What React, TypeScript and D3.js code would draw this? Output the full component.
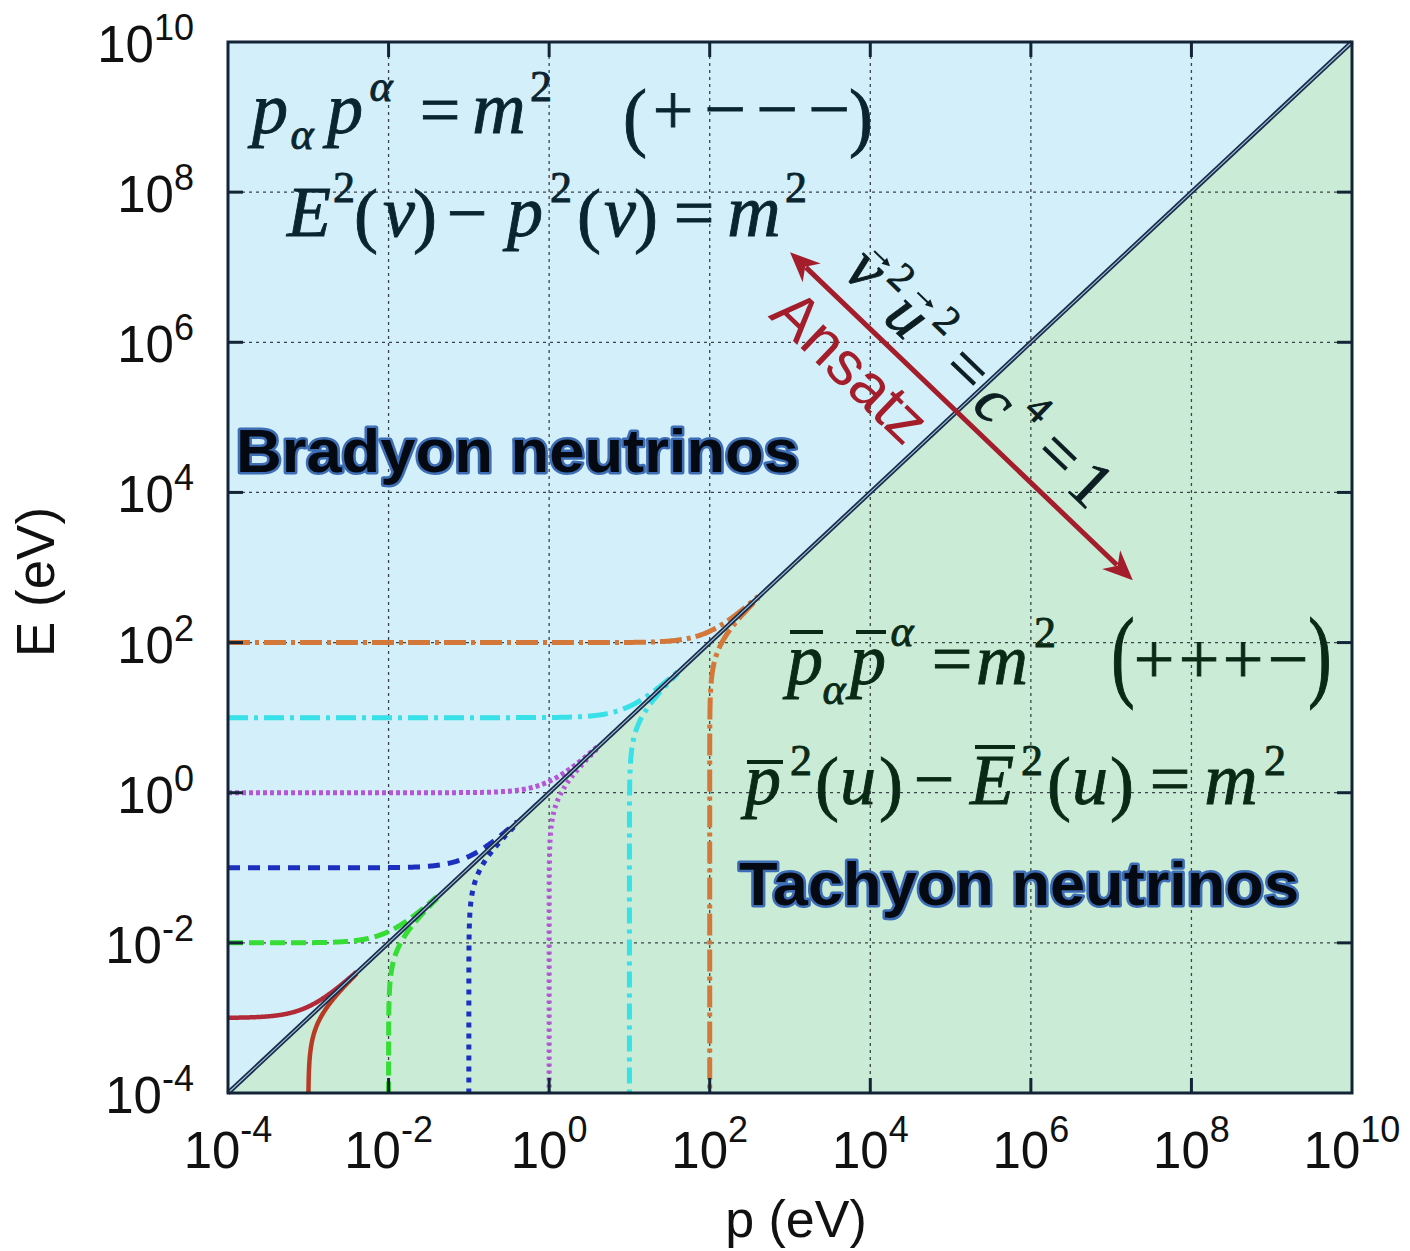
import React from "react";
import * as d3 from "d3";

// Neutrino rest masses (eV) for which E² − p² = ±m² is drawn
const masses = [1e-3, 1e-2, 1e-1, 1, 10, 100];
// Decade exponents carrying a labelled tick on both axes
const tickExponents = [-4, -2, 0, 2, 4, 6, 8, 10];
// Axis domain (eV)
const domainEV = [1e-4, 1e10];
// Double-headed "Ansatz" arrow end points in (p, E) eV
const arrowStart = [1e3, Math.pow(10, 7.2)];
const arrowEnd = [Math.pow(10, 7.27), Math.pow(10, 2.83)];

const W = 1410;
const H = 1251;
const PLOT = { left: 228, right: 1352, top: 42, bottom: 1093 };

const curveStyles = [
  { bra: "#b22a38", tac: "#b83a22", braDash: "", tacDash: "" },
  { bra: "#35dd35", tac: "#35dd35", braDash: "15 6", tacDash: "14 6" },
  { bra: "#1c30c0", tac: "#1c30c0", braDash: "12 8", tacDash: "5 6" },
  { bra: "#b456d6", tac: "#b456d6", braDash: "4 3", tacDash: "3 4" },
  { bra: "#38e0e8", tac: "#38e0e8", braDash: "20 6 4 6", tacDash: "16 6 4 6" },
  { bra: "#d4783a", tac: "#d4783a", braDash: "22 5 4 5", tacDash: "22 5 4 5" },
];

type Piece = { t: string; cx: number; by: number; s: number; it?: boolean; sy?: number };
type Bar = { x1: number; x2: number; y: number };

const braLine1: Piece[] = [
  { t: "p", cx: 270, by: 133, s: 72, it: true },
  { t: "α", cx: 302, by: 149, s: 44, it: true },
  { t: "p", cx: 345, by: 133, s: 72, it: true },
  { t: "α", cx: 381, by: 101, s: 44, it: true },
  { t: "=", cx: 440, by: 134, s: 72 },
  { t: "m", cx: 499, by: 133, s: 74, it: true },
  { t: "2", cx: 541, by: 101, s: 44 },
  { t: "(", cx: 635, by: 142, s: 72, sy: 1.05 },
  { t: "+", cx: 673, by: 134, s: 72 },
  { t: "−", cx: 725, by: 134, s: 74 },
  { t: "−", cx: 777, by: 134, s: 74 },
  { t: "−", cx: 829, by: 134, s: 74 },
  { t: ")", cx: 861, by: 142, s: 72, sy: 1.05 },
];
const braLine2: Piece[] = [
  { t: "E", cx: 309, by: 236, s: 72, it: true },
  { t: "2", cx: 344, by: 202, s: 44 },
  { t: "(", cx: 366, by: 239, s: 72 },
  { t: "v", cx: 399, by: 236, s: 72, it: true },
  { t: ")", cx: 425, by: 239, s: 72 },
  { t: "−", cx: 467, by: 237, s: 72 },
  { t: "p", cx: 525, by: 236, s: 72, it: true },
  { t: "2", cx: 561, by: 202, s: 44 },
  { t: "(", cx: 589, by: 239, s: 72 },
  { t: "v", cx: 620, by: 236, s: 72, it: true },
  { t: ")", cx: 646, by: 239, s: 72 },
  { t: "=", cx: 694, by: 237, s: 72 },
  { t: "m", cx: 754, by: 236, s: 74, it: true },
  { t: "2", cx: 796, by: 202, s: 44 },
];
const tacLine1: Piece[] = [
  { t: "p", cx: 805, by: 684, s: 72, it: true },
  { t: "α", cx: 834, by: 704, s: 44, it: true },
  { t: "p", cx: 868, by: 684, s: 72, it: true },
  { t: "α", cx: 902, by: 646, s: 44, it: true },
  { t: "=", cx: 952, by: 683, s: 72 },
  { t: "m", cx: 1002, by: 684, s: 72, it: true },
  { t: "2", cx: 1045, by: 647, s: 44 },
  { t: "(", cx: 1123, by: 688, s: 70, sy: 1.45 },
  { t: "+", cx: 1154, by: 683, s: 72 },
  { t: "+", cx: 1199, by: 683, s: 72 },
  { t: "+", cx: 1243, by: 683, s: 72 },
  { t: "−", cx: 1288, by: 683, s: 72 },
  { t: ")", cx: 1320, by: 688, s: 70, sy: 1.45 },
];
const tacBars1: Bar[] = [
  { x1: 790, x2: 823, y: 632 },
  { x1: 856, x2: 886, y: 632 },
];
const tacLine2: Piece[] = [
  { t: "p", cx: 763, by: 804, s: 72, it: true },
  { t: "2", cx: 801, by: 775, s: 44 },
  { t: "(", cx: 827, by: 807, s: 72 },
  { t: "u", cx: 858, by: 804, s: 72, it: true },
  { t: ")", cx: 891, by: 807, s: 72 },
  { t: "−", cx: 934, by: 803, s: 72 },
  { t: "E", cx: 992, by: 804, s: 72, it: true },
  { t: "2", cx: 1032, by: 775, s: 44 },
  { t: "(", cx: 1059, by: 807, s: 72 },
  { t: "u", cx: 1090, by: 804, s: 72, it: true },
  { t: ")", cx: 1122, by: 807, s: 72 },
  { t: "=", cx: 1170, by: 803, s: 72 },
  { t: "m", cx: 1231, by: 804, s: 74, it: true },
  { t: "2", cx: 1275, by: 775, s: 44 },
];
const tacBars2: Bar[] = [
  { x1: 747, x2: 783, y: 762 },
  { x1: 975, x2: 1015, y: 747 },
];

// Glyphs of v²u² = c⁴ = 1 laid out along the arrow (along, across)
const arrowEq: Piece[] = [
  { t: "v", cx: 67, by: -20, s: 66, it: true },
  { t: "2", cx: 98, by: -46, s: 40 },
  { t: "u", cx: 129, by: -15, s: 66, it: true },
  { t: "2", cx: 161, by: -46, s: 40 },
  { t: "=", cx: 209, by: -17, s: 66 },
  { t: "c", cx: 252, by: -13, s: 66, it: true },
  { t: "4", cx: 288, by: -46, s: 40 },
  { t: "=", cx: 334, by: -19, s: 66 },
  { t: "1", cx: 378, by: -19, s: 66 },
];
const vecMarks = [71, 131];

function MathGlyphs({ pieces, fill }: { pieces: Piece[]; fill: string }) {
  return (
    <g fill={fill} stroke={fill} strokeWidth={0.9} fontFamily="'Liberation Serif', 'Times New Roman', serif">
      {pieces.map((p, i) => (
        <text
          key={i}
          transform={`translate(${p.cx},${p.by}) scale(1,${p.sy ?? 1})`}
          fontSize={p.s}
          fontStyle={p.it ? "italic" : "normal"}
          textAnchor="middle"
        >
          {p.t}
        </text>
      ))}
    </g>
  );
}

function Bars({ bars, stroke }: { bars: Bar[]; stroke: string }) {
  return (
    <g stroke={stroke} strokeWidth={4}>
      {bars.map((b, i) => (
        <line key={i} x1={b.x1} x2={b.x2} y1={b.y} y2={b.y} />
      ))}
    </g>
  );
}

export default function App() {
  const x = d3.scaleLog().domain(domainEV).range([PLOT.left, PLOT.right]);
  const y = d3.scaleLog().domain(domainEV).range([PLOT.bottom, PLOT.top]);
  const line = d3
    .line<[number, number]>()
    .x((d) => x(d[0]))
    .y((d) => y(d[1]));

  const N = 300;
  // Bradyon branch: E = sqrt(p² + m²)
  const bradyon = (m: number): [number, number][] => {
    const lo = Math.log10(domainEV[0]);
    const hi = Math.log10(4 * m);
    return d3.range(N + 1).map((i) => {
      const p = Math.pow(10, lo + ((hi - lo) * i) / N);
      return [p, Math.sqrt(p * p + m * m)];
    });
  };
  // Tachyon branch: p = sqrt(E² + m²)
  const tachyon = (m: number): [number, number][] => {
    const lo = Math.log10(domainEV[0]) - 0.3;
    const hi = Math.log10(3.9 * m);
    return d3.range(N + 1).map((i) => {
      const E = Math.pow(10, lo + ((hi - lo) * i) / N);
      return [Math.sqrt(E * E + m * m), E];
    });
  };

  const lo = domainEV[0];
  const hi = domainEV[1];
  const upper = `M${x(lo)},${y(lo)}L${x(lo)},${y(hi)}L${x(hi)},${y(hi)}Z`;
  const lower = `M${x(lo)},${y(lo)}L${x(hi)},${y(hi)}L${x(hi)},${y(lo)}Z`;

  const gridExps = tickExponents.slice(1, -1);
  const tickLen = 15;

  // Arrow geometry in pixel space
  const ax0 = x(arrowStart[0]);
  const ay0 = y(arrowStart[1]);
  const ax1 = x(arrowEnd[0]);
  const ay1 = y(arrowEnd[1]);
  const L = Math.hypot(ax1 - ax0, ay1 - ay0);
  const ang = (Math.atan2(ay1 - ay0, ax1 - ax0) * 180) / Math.PI;
  const arrowColor = "#a31d2b";
  const head = 30;
  const hw = 13;

  return (
    <svg
      width={W}
      height={H}
      viewBox={`0 0 ${W} ${H}`}
      style={{ position: "absolute", left: 0, top: 0 }}
      fontFamily="'Liberation Sans', Arial, Helvetica, sans-serif"
    >
      <defs>
        <clipPath id="plotClip">
          <rect x={PLOT.left} y={PLOT.top} width={PLOT.right - PLOT.left} height={PLOT.bottom - PLOT.top} />
        </clipPath>
      </defs>
      <rect width={W} height={H} fill="#ffffff" />

      {/* regions */}
      <path d={upper} fill="#d3eff9" />
      <path d={lower} fill="#caecd7" />

      {/* grid */}
      <g stroke="#3a4448" strokeWidth={1.3} strokeDasharray="3 4">
        {gridExps.map((e) => (
          <line key={"gx" + e} x1={x(10 ** e)} x2={x(10 ** e)} y1={PLOT.top} y2={PLOT.bottom} />
        ))}
        {gridExps.map((e) => (
          <line key={"gy" + e} y1={y(10 ** e)} y2={y(10 ** e)} x1={PLOT.left} x2={PLOT.right} />
        ))}
      </g>

      {/* dispersion curves */}
      <g clipPath="url(#plotClip)" fill="none">
        {masses.map((m, i) => (
          <path
            key={"b" + i}
            d={line(bradyon(m)) || ""}
            stroke={curveStyles[i].bra}
            strokeDasharray={curveStyles[i].braDash || undefined}
            strokeWidth={i === 0 ? 4.5 : 5}
          />
        ))}
        {masses.map((m, i) => (
          <path
            key={"t" + i}
            d={line(tachyon(m)) || ""}
            stroke={curveStyles[i].tac}
            strokeDasharray={curveStyles[i].tacDash || undefined}
            strokeWidth={i === 0 ? 4.5 : 5}
          />
        ))}
      </g>

      {/* light cone E = p */}
      <line x1={x(lo)} y1={y(lo)} x2={x(hi)} y2={y(hi)} stroke="#1b2c48" strokeWidth={4.5} />
      <line x1={x(lo)} y1={y(lo)} x2={x(hi)} y2={y(hi)} stroke="#9fc3e0" strokeWidth={1.1} />

      {/* frame and ticks */}
      <rect
        x={PLOT.left}
        y={PLOT.top}
        width={PLOT.right - PLOT.left}
        height={PLOT.bottom - PLOT.top}
        fill="none"
        stroke="#132437"
        strokeWidth={3}
      />
      <g stroke="#132437" strokeWidth={3}>
        {gridExps.map((e) => (
          <g key={"t" + e}>
            <line x1={x(10 ** e)} x2={x(10 ** e)} y1={PLOT.bottom} y2={PLOT.bottom - tickLen} />
            <line x1={x(10 ** e)} x2={x(10 ** e)} y1={PLOT.top} y2={PLOT.top + tickLen} />
            <line y1={y(10 ** e)} y2={y(10 ** e)} x1={PLOT.left} x2={PLOT.left + tickLen} />
            <line y1={y(10 ** e)} y2={y(10 ** e)} x1={PLOT.right} x2={PLOT.right - tickLen} />
          </g>
        ))}
      </g>

      {/* tick labels */}
      <g fill="#111">
        {tickExponents.map((e) => (
          <text key={"xl" + e} x={x(10 ** e)} y={1168} textAnchor="middle" fontSize={51}>
            <tspan>10</tspan>
            <tspan dy={-26} fontSize={36}>
              {String(e)}
            </tspan>
          </text>
        ))}
        {tickExponents.map((e) => (
          <text key={"yl" + e} x={194} y={y(10 ** e) + 20} textAnchor="end" fontSize={51}>
            <tspan>10</tspan>
            <tspan dy={-22} fontSize={36}>
              {String(e)}
            </tspan>
          </text>
        ))}
      </g>

      {/* axis titles */}
      <text x={796} y={1237} textAnchor="middle" fontSize={52} fill="#111">
        p (eV)
      </text>
      <text transform="translate(54,582) rotate(-90)" textAnchor="middle" fontSize={53} fill="#111">
        E (eV)
      </text>

      {/* region names */}
      <g fontWeight="bold" fontSize={62} fill="#050a12" stroke="#3d6db5" strokeWidth={5} style={{ paintOrder: "stroke" }} strokeLinejoin="round">
        <text x={236} y={472} textLength={563} lengthAdjust="spacingAndGlyphs">
          Bradyon neutrinos
        </text>
        <text x={739} y={905} textLength={560} lengthAdjust="spacingAndGlyphs">
          Tachyon neutrinos
        </text>
      </g>

      {/* dispersion relations */}
      <MathGlyphs pieces={braLine1} fill="#0a2530" />
      <MathGlyphs pieces={braLine2} fill="#0a2530" />
      <MathGlyphs pieces={tacLine1} fill="#0b2a16" />
      <MathGlyphs pieces={tacLine2} fill="#0b2a16" />
      <Bars bars={tacBars1} stroke="#0b2a16" />
      <Bars bars={tacBars2} stroke="#0b2a16" />

      {/* Ansatz arrow with v²u² = c⁴ = 1 */}
      <g transform={`translate(${ax0},${ay0}) rotate(${ang})`}>
        <line x1={head - 8} x2={L - head + 8} y1={0} y2={0} stroke={arrowColor} strokeWidth={5} />
        <path d={`M0,0L${head},${-hw}L${head - 9},0L${head},${hw}Z`} fill={arrowColor} />
        <path d={`M${L},0L${L - head},${-hw}L${L - head + 9},0L${L - head},${hw}Z`} fill={arrowColor} />
        <text x={123} y={62} textAnchor="middle" fontSize={62} fill={arrowColor}>
          Ansatz
        </text>
        <MathGlyphs pieces={arrowEq} fill="#0c1e22" />
        {vecMarks.map((vx, i) => (
          <g key={i} transform={`translate(${vx},-59)`} stroke="#0c1e22" fill="#0c1e22">
            <line x1={-11} x2={7} y1={0} y2={0} strokeWidth={2} />
            <path d="M11,0L3,-4L3,4Z" strokeWidth={0} />
          </g>
        ))}
      </g>
    </svg>
  );
}
